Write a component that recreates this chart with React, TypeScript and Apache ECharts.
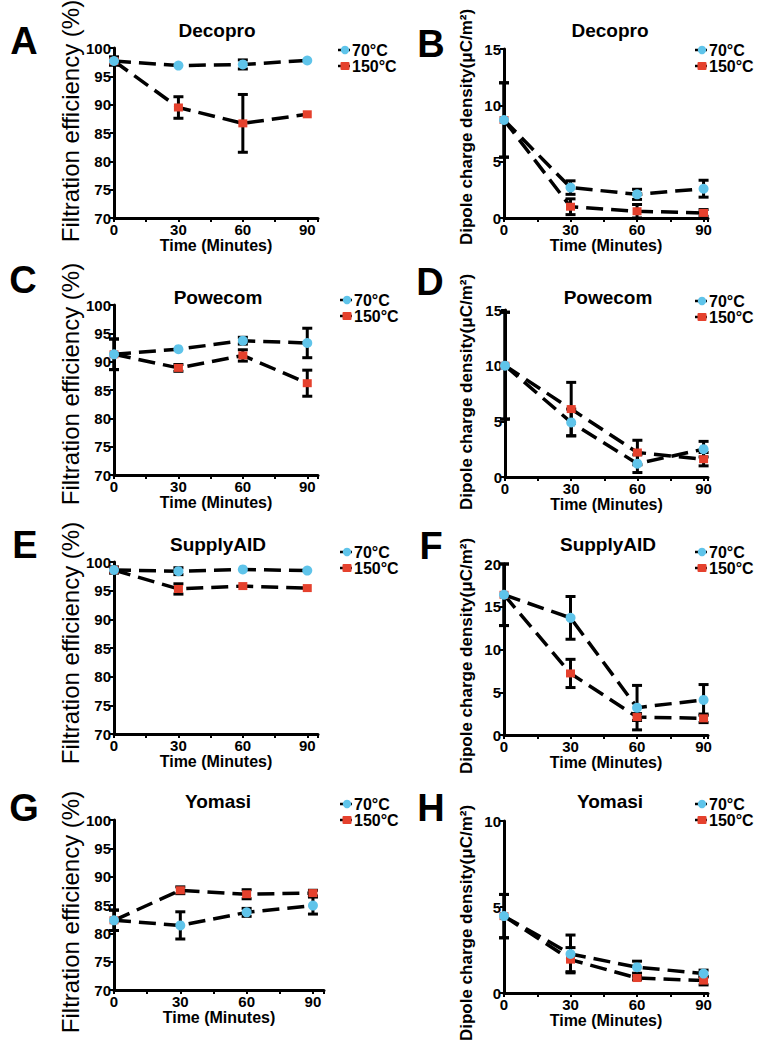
import React, { useEffect, useRef } from "react";
import * as echarts from "echarts";

// ---------- data ----------
const times = [0, 30, 60, 90];

// Filtration efficiency (%)
const decoproFE70 = [97.7, 96.9, 97.1, 97.8];
const decoproFE70Err = [0.7, 0, 0.8, 0];
const decoproFE150 = [97.7, 89.5, 86.7, 88.3];
const decoproFE150Err = [0.7, 1.9, 5.1, 0];

const powecomFE70 = [91.3, 92.2, 93.7, 93.3];
const powecomFE70Err = [2.7, 0, 0.6, 2.6];
const powecomFE150 = [91.3, 88.9, 91.1, 86.2];
const powecomFE150Err = [2.7, 0.6, 1.0, 2.3];

const supplyFE70 = [98.6, 98.4, 98.7, 98.5];
const supplyFE70Err = [0.5, 0.6, 0, 0];
const supplyFE150 = [98.6, 95.3, 95.8, 95.45];
const supplyFE150Err = [0.5, 0.9, 0, 0];

const yomasiFE70 = [82.3, 81.4, 83.7, 84.9];
const yomasiFE70Err = [1.8, 2.4, 0.7, 1.5];
const yomasiFE150 = [82.3, 87.6, 86.9, 87.1];
const yomasiFE150Err = [1.8, 0.6, 0.8, 0.5];

// Dipole charge density (uC/m2)
const decoproDC70 = [8.7, 2.7, 2.1, 2.6];
const decoproDC70Err = [3.3, 0.6, 0.45, 0.75];
const decoproDC150 = [8.7, 1.0, 0.6, 0.45];
const decoproDC150Err = [3.3, 0.7, 0.6, 0.3];

const powecomDC70 = [10.0, 4.9, 1.2, 2.5];
const powecomDC70Err = [4.8, 1.2, 0.8, 0.7];
const powecomDC150 = [10.0, 6.1, 2.2, 1.6];
const powecomDC150Err = [4.8, 2.4, 1.1, 0.6];

const supplyDC70 = [16.4, 13.7, 3.2, 4.1];
const supplyDC70Err = [3.6, 2.5, 2.6, 1.8];
const supplyDC150 = [16.4, 7.2, 2.1, 1.95];
const supplyDC150Err = [3.6, 1.65, 0.4, 0.5];

const yomasiDC70 = [4.47, 2.27, 1.5, 1.13];
const yomasiDC70Err = [1.26, 1.1, 0.35, 0.2];
const yomasiDC150 = [4.47, 1.94, 0.87, 0.72];
const yomasiDC150Err = [1.26, 0.7, 0.1, 0.25];

const legendNames = ["70°C", "150°C"];
const xTitle = "Time (Minutes)";
const feTitle = "Filtration efficiency (%)";
const dcTitle = "Dipole charge density(μC/m²)";

// ---------- panel definitions ----------
type Panel = {
  letter: string;
  title: string;
  s70: number[]; e70: number[]; s150: number[]; e150: number[];
  ymin: number; ymax: number;
  kind: "fe" | "dc";
};

const panels: Panel[] = [
  { letter: "A", title: "Decopro", s70: decoproFE70, e70: decoproFE70Err, s150: decoproFE150, e150: decoproFE150Err, ymin: 70, ymax: 100, kind: "fe" },
  { letter: "B", title: "Decopro", s70: decoproDC70, e70: decoproDC70Err, s150: decoproDC150, e150: decoproDC150Err, ymin: 0, ymax: 15, kind: "dc" },
  { letter: "C", title: "Powecom", s70: powecomFE70, e70: powecomFE70Err, s150: powecomFE150, e150: powecomFE150Err, ymin: 70, ymax: 100, kind: "fe" },
  { letter: "D", title: "Powecom", s70: powecomDC70, e70: powecomDC70Err, s150: powecomDC150, e150: powecomDC150Err, ymin: 0, ymax: 15, kind: "dc" },
  { letter: "E", title: "SupplyAID", s70: supplyFE70, e70: supplyFE70Err, s150: supplyFE150, e150: supplyFE150Err, ymin: 70, ymax: 100, kind: "fe" },
  { letter: "F", title: "SupplyAID", s70: supplyDC70, e70: supplyDC70Err, s150: supplyDC150, e150: supplyDC150Err, ymin: 0, ymax: 20, kind: "dc" },
  { letter: "G", title: "Yomasi", s70: yomasiFE70, e70: yomasiFE70Err, s150: yomasiFE150, e150: yomasiFE150Err, ymin: 70, ymax: 100, kind: "fe" },
  { letter: "H", title: "Yomasi", s70: yomasiDC70, e70: yomasiDC70Err, s150: yomasiDC150, e150: yomasiDC150Err, ymin: 0, ymax: 10, kind: "dc" },
];

// layout per panel
const layouts = [
  { left: 114, top: 48, width: 204, height: 170, xmax: 95, titleX: 217, titleY: 30, nameX: 70, nameY: 121, letX: 24, letY: 41, legX: 345, legY: 50 },
  { left: 504, top: 49, width: 204, height: 169, xmax: 92, titleX: 610, titleY: 30, nameX: 466, nameY: 127, letX: 431, letY: 44, legX: 702, legY: 50 },
  { left: 114, top: 305, width: 204, height: 170, xmax: 95, titleX: 218, titleY: 297, nameX: 70, nameY: 384, letX: 23, letY: 280, legX: 347, legY: 300 },
  { left: 505, top: 310, width: 203, height: 167, xmax: 92, titleX: 608, titleY: 297, nameX: 466, nameY: 392, letX: 430, letY: 282, legX: 702, legY: 301 },
  { left: 114, top: 562, width: 204, height: 172, xmax: 95, titleX: 218, titleY: 544, nameX: 70, nameY: 643, letX: 25, letY: 545, legX: 347, legY: 552 },
  { left: 504, top: 564, width: 204, height: 171, xmax: 92, titleX: 608, titleY: 544, nameX: 466, nameY: 656, letX: 431, letY: 546, legX: 702, legY: 552 },
  { left: 114, top: 820, width: 210, height: 170, xmax: 95, titleX: 218, titleY: 801, nameX: 70, nameY: 912, letX: 24, letY: 808, legX: 347, legY: 804 },
  { left: 504, top: 821, width: 204, height: 172, xmax: 92, titleX: 610, titleY: 801, nameX: 466, nameY: 923, letX: 431, letY: 808, legX: 702, legY: 804 },
];

const BLUE = "#5fc4ea";
const RED = "#e5412d";
const FONT = "'Liberation Sans', Arial, Helvetica, sans-serif";
const DASH = [17, 8];

function errorRender(params: any, api: any) {
  const x = api.value(0);
  const y = api.value(1);
  const e = api.value(2);
  if (!e) return { type: "group", children: [] };
  const hi = api.coord([x, y + e]);
  const lo = api.coord([x, y - e]);
  const cw = 5;
  const st = { stroke: "#000", lineWidth: 3 };
  return {
    type: "group",
    children: [
      { type: "line", shape: { x1: hi[0], y1: hi[1], x2: lo[0], y2: lo[1] }, style: { stroke: "#000", lineWidth: 3 } },
      { type: "line", shape: { x1: hi[0] - cw, y1: hi[1], x2: hi[0] + cw, y2: hi[1] }, style: st },
      { type: "line", shape: { x1: lo[0] - cw, y1: lo[1], x2: lo[0] + cw, y2: lo[1] }, style: st },
    ],
  };
}

function buildOption() {
  const grid: any[] = [];
  const xAxis: any[] = [];
  const yAxis: any[] = [];
  const series: any[] = [];
  const graphic: any[] = [];

  panels.forEach((p, i) => {
    const L = layouts[i];
    grid.push({ left: L.left, top: L.top, width: L.width, height: L.height, containLabel: false });
    xAxis.push({
      type: "value",
      gridIndex: i,
      min: 0,
      max: L.xmax,
      interval: 15,
      axisLine: { show: true, onZero: false, lineStyle: { color: "#000", width: 3 } },
      axisTick: { show: true, length: 4, lineStyle: { color: "#000", width: 2 } },
      axisLabel: {
        show: true,
        margin: 4,
        color: "#000",
        fontFamily: FONT,
        fontWeight: "bold",
        fontSize: 15,
        formatter: (v: number) => (v % 30 === 0 && v <= 90 ? String(v) : ""),
      },
      splitLine: { show: false },
      name: xTitle,
      nameLocation: "middle",
      nameGap: 19,
      nameTextStyle: { color: "#000", fontFamily: FONT, fontWeight: "bold", fontSize: 16 },
    });
    yAxis.push({
      type: "value",
      gridIndex: i,
      min: p.ymin,
      max: p.ymax,
      interval: 5,
      axisLine: { show: true, onZero: false, lineStyle: { color: "#000", width: 3 } },
      axisTick: { show: true, length: 4, lineStyle: { color: "#000", width: 2 } },
      axisLabel: { margin: 3, color: "#000", fontFamily: FONT, fontWeight: "bold", fontSize: 15 },
      splitLine: { show: false },
    });

    const mk = (vals: number[]) => times.map((t, k) => [t, vals[k]]);
    const mkErr = (vals: number[], errs: number[]) => times.map((t, k) => [t, vals[k], errs[k]]);

    series.push({
      type: "custom",
      xAxisIndex: i,
      yAxisIndex: i,
      renderItem: errorRender,
      data: mkErr(p.s150, p.e150),
      encode: { x: 0, y: 1 },
      z: 2,
      clip: false,
    });
    series.push({
      type: "custom",
      xAxisIndex: i,
      yAxisIndex: i,
      renderItem: errorRender,
      data: mkErr(p.s70, p.e70),
      encode: { x: 0, y: 1 },
      z: 2,
      clip: false,
    });
    series.push({
      type: "line",
      name: legendNames[1],
      xAxisIndex: i,
      yAxisIndex: i,
      data: mk(p.s150),
      symbol: "rect",
      symbolSize: [9, 8],
      itemStyle: { color: RED, borderWidth: 0 },
      lineStyle: { color: "#000", width: 3.5, type: DASH },
      z: 3,
    });
    series.push({
      type: "line",
      name: legendNames[0],
      xAxisIndex: i,
      yAxisIndex: i,
      data: mk(p.s70),
      symbol: "circle",
      symbolSize: 10,
      itemStyle: { color: BLUE, borderWidth: 0 },
      lineStyle: { color: "#000", width: 3.5, type: DASH },
      z: 4,
    });

    graphic.push({
      type: "text",
      x: L.titleX,
      y: L.titleY,
      style: { text: p.title, font: `bold 19px ${FONT}`, fill: "#000", align: "center", verticalAlign: "middle" },
    });
    graphic.push({
      type: "text",
      x: L.letX,
      y: L.letY,
      style: { text: p.letter, font: `bold 38px ${FONT}`, fill: "#000", align: "center", verticalAlign: "middle" },
    });
    graphic.push({
      type: "text",
      x: L.nameX,
      y: L.nameY,
      rotation: Math.PI / 2,
      style: {
        text: p.kind === "fe" ? feTitle : dcTitle,
        font: p.kind === "fe" ? `24px ${FONT}` : `bold 17px ${FONT}`,
        fill: "#000",
        align: "center",
        verticalAlign: "middle",
      },
    });
    [0, 1].forEach((r) => {
      const y = L.legY + r * 16;
      graphic.push({ type: "line", shape: { x1: L.legX - 7, y1: y, x2: L.legX + 5, y2: y }, style: { stroke: "#000", lineWidth: 2.5 } });
      if (r === 0) {
        graphic.push({ type: "circle", shape: { cx: L.legX, cy: y, r: 4.2 }, style: { fill: BLUE } });
      } else {
        graphic.push({ type: "rect", shape: { x: L.legX - 4.5, y: y - 4, width: 9, height: 8, r: 1 }, style: { fill: RED } });
      }
      graphic.push({
        type: "text",
        x: L.legX + 7,
        y,
        style: { text: legendNames[r], font: `bold 16px ${FONT}`, fill: "#000", align: "left", verticalAlign: "middle" },
      });
    });
  });

  return {
    animation: false,
    backgroundColor: "#fff",
    grid,
    xAxis,
    yAxis,
    series,
    graphic,
  };
}

export default function App() {
  const ref = useRef<HTMLDivElement>(null);
  useEffect(() => {
    if (!ref.current) return;
    const chart = echarts.init(ref.current, undefined, { renderer: "svg" });
    chart.setOption(buildOption() as any);
    return () => chart.dispose();
  }, []);
  return (
    <div
      ref={ref}
      style={{ position: "absolute", left: 0, top: 0, width: 766, height: 1050, background: "#fff" }}
    />
  );
}
